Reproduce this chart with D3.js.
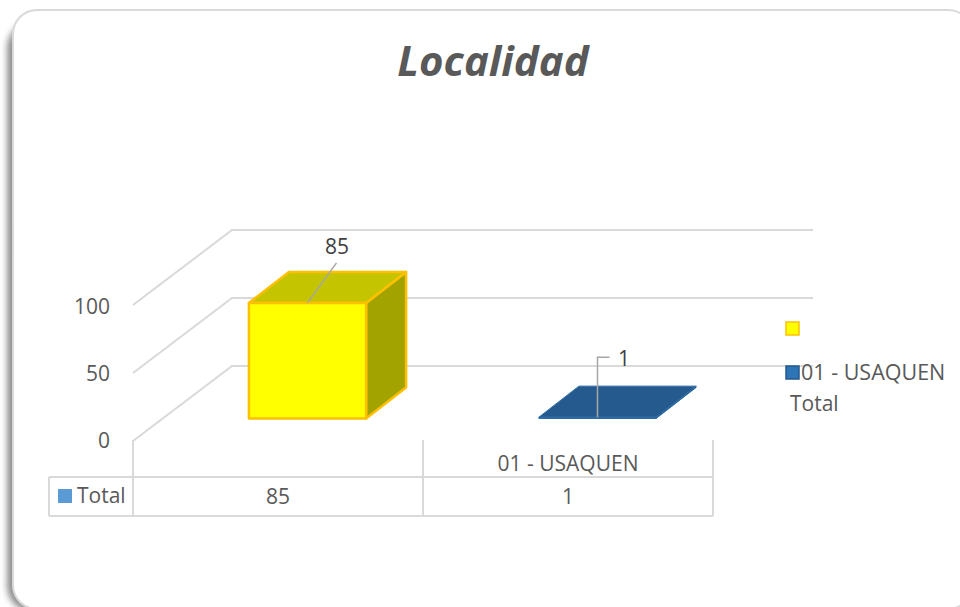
<!DOCTYPE html>
<html>
<head>
<meta charset="utf-8">
<script src="https://cdn.jsdelivr.net/npm/d3@7"></script>
<style>
    html, body { margin: 0; padding: 0; background: #fff; overflow: hidden; }
    svg { display: block; }
    text { font-family: "Open Sans", sans-serif; fill: #595959; font-size: 21px; }
</style>
</head>
<body>
<div id="chart"></div>
<script>
// chart values
var categories = ["", "01 - USAQUEN"];
var values = [85, 1];
var barFill = ["#ffff00", "#255a8e"];
var barStroke = ["#ffc000", "#2e6ca8"];
var barStrokeWidth = [2.5, 1];
var topFill = ["#c4c400", "#255a8e"];
var sideFill = ["#a3a300", "#1d4870"];
var yTicks = [0, 50, 100];
var seriesName = "Total";
var chartTitle = "Localidad";

var width = 960, height = 607;

var svg = d3.select("#chart").append("svg")
    .attr("width", width)
    .attr("height", height);

// card shadow falls to the left of the frame
var defs = svg.append("defs");
var blur = defs.append("filter").attr("id", "blur")
    .attr("x", "-5%").attr("y", "-5%").attr("width", "110%").attr("height", "110%");
blur.append("feGaussianBlur").attr("stdDeviation", 3);

svg.append("rect")
    .attr("x", 7).attr("y", 22).attr("width", 965).attr("height", 590)
    .attr("rx", 26)
    .attr("fill", "#8f8f8f")
    .attr("filter", "url(#blur)");
svg.append("rect")
    .attr("x", 13).attr("y", 10).attr("width", 959).attr("height", 599)
    .attr("rx", 24)
    .attr("fill", "#fff")
    .attr("stroke", "#d9d9d9")
    .attr("stroke-width", 2);

svg.append("text")
    .attr("x", 493).attr("y", 76)
    .attr("text-anchor", "middle")
    .style("font-size", "42px")
    .style("font-weight", "bold")
    .style("font-style", "italic")
    .text(chartTitle);

// scales: one for the categories, one for the heights, plus the depth offset
var x = d3.scaleBand().domain(d3.range(categories.length)).range([133, 713]);
var y = d3.scaleLinear().domain([0, 100]).range([0, -136]);
var yLabel = d3.scaleLinear().domain([0, 100]).range([448, 314]);
var depthX = 99, depthY = -75;     // front of floor to back wall
var floorY = 441;
var barInset = 29.5;               // bars sit partway back on the floor
var barDepthX = 40, barDepthY = -31;
var barFront = 418.5;
var barWidth = x.bandwidth() * 0.404;
var line = d3.line();

var gridColor = "#d9d9d9";

// walls
var grid = svg.append("g")
    .attr("fill", "none")
    .attr("stroke", gridColor)
    .attr("stroke-width", 2);
yTicks.forEach(function(t) {
    var fy = floorY + y(t);
    grid.append("path").attr("d", line([
        [133, fy],
        [133 + depthX, fy + depthY],
        [813, fy + depthY]
    ]));
});

// y axis labels
svg.append("g").selectAll("text")
    .data(yTicks)
    .join("text")
    .attr("x", 110)
    .attr("y", function(d) { return yLabel(d); })
    .attr("text-anchor", "end")
    .text(function(d) { return d; });

// bars
values.forEach(function(v, i) {
    var x0 = x(i) + x.bandwidth() / 2 + barInset - barWidth / 2;
    var x1 = x0 + barWidth;
    var b = barFront, t = barFront + y(v);
    var g = svg.append("g")
        .attr("stroke", barStroke[i])
        .attr("stroke-width", barStrokeWidth[i])
        .attr("stroke-linejoin", "round");
    g.append("path").attr("fill", sideFill[i]).attr("d", line([
        [x1, t], [x1 + barDepthX, t + barDepthY], [x1 + barDepthX, b + barDepthY], [x1, b]
    ]) + "Z");
    g.append("path").attr("fill", topFill[i]).attr("d", line([
        [x0, t], [x0 + barDepthX, t + barDepthY], [x1 + barDepthX, t + barDepthY], [x1, t]
    ]) + "Z");
    g.append("path").attr("fill", barFill[i]).attr("d", line([
        [x0, t], [x1, t], [x1, b], [x0, b]
    ]) + "Z");
});

// data labels with their leader lines
var leaders = svg.append("g").attr("fill", "none").attr("stroke", "#a6a6a6").attr("stroke-width", 1.5);
var cx0 = x(0) + x.bandwidth() / 2 + barInset;
var t0 = barFront + y(values[0]);
leaders.append("path").attr("d", line([[cx0, t0], [cx0 + 29, t0 - 40]]));
var cx1 = x(1) + x.bandwidth() / 2 + barInset;
var t1 = barFront + y(values[1]);
leaders.append("path").attr("d", line([[cx1, t1], [cx1, t1 - 60], [cx1 + 12, t1 - 60]]));

svg.append("text").attr("x", 337).attr("y", 254).attr("text-anchor", "middle").style("fill", "#404040").text(values[0]);
svg.append("text").attr("x", 624).attr("y", 366).attr("text-anchor", "middle").style("fill", "#404040").text(values[1]);

// data table under the plot
var tableTop = 477, tableBottom = 516, tableLeft = 49;
var table = svg.append("g").attr("fill", "none").attr("stroke", gridColor).attr("stroke-width", 2);
table.append("path").attr("d", line([[tableLeft, tableTop], [713, tableTop]]));
table.append("path").attr("d", line([[tableLeft, tableBottom], [713, tableBottom]]));
table.append("path").attr("d", line([[tableLeft, tableTop], [tableLeft, tableBottom]]));
[0, 1, 2].forEach(function(i) {
    var px = i < 2 ? x(i) : x(1) + x.bandwidth();
    table.append("path").attr("d", line([[px, 440], [px, tableBottom]]));
});

svg.append("text").attr("x", x(1) + x.bandwidth() / 2).attr("y", 471)
    .attr("text-anchor", "middle").text(categories[1]);
svg.append("g").selectAll("text")
    .data(values)
    .join("text")
    .attr("x", function(d, i) { return x(i) + x.bandwidth() / 2; })
    .attr("y", 504)
    .attr("text-anchor", "middle")
    .text(function(d) { return d; });
svg.append("rect").attr("x", 58).attr("y", 489).attr("width", 14).attr("height", 14).attr("fill", "#5b9bd5");
svg.append("text").attr("x", 77).attr("y", 503).text(seriesName);

// legend
svg.append("rect").attr("x", 786).attr("y", 322).attr("width", 13).attr("height", 13)
    .attr("fill", barFill[0]).attr("stroke", barStroke[0]).attr("stroke-width", 1.5);
svg.append("rect").attr("x", 786).attr("y", 366).attr("width", 13).attr("height", 13)
    .attr("fill", "#2e75b6").attr("stroke", "#255a8e").attr("stroke-width", 1.5);
svg.append("text").attr("x", 801).attr("y", 380).style("font-size", "21.5px").text(categories[1]);
svg.append("text").attr("x", 790).attr("y", 411).text(seriesName);
</script>
</body>
</html>
